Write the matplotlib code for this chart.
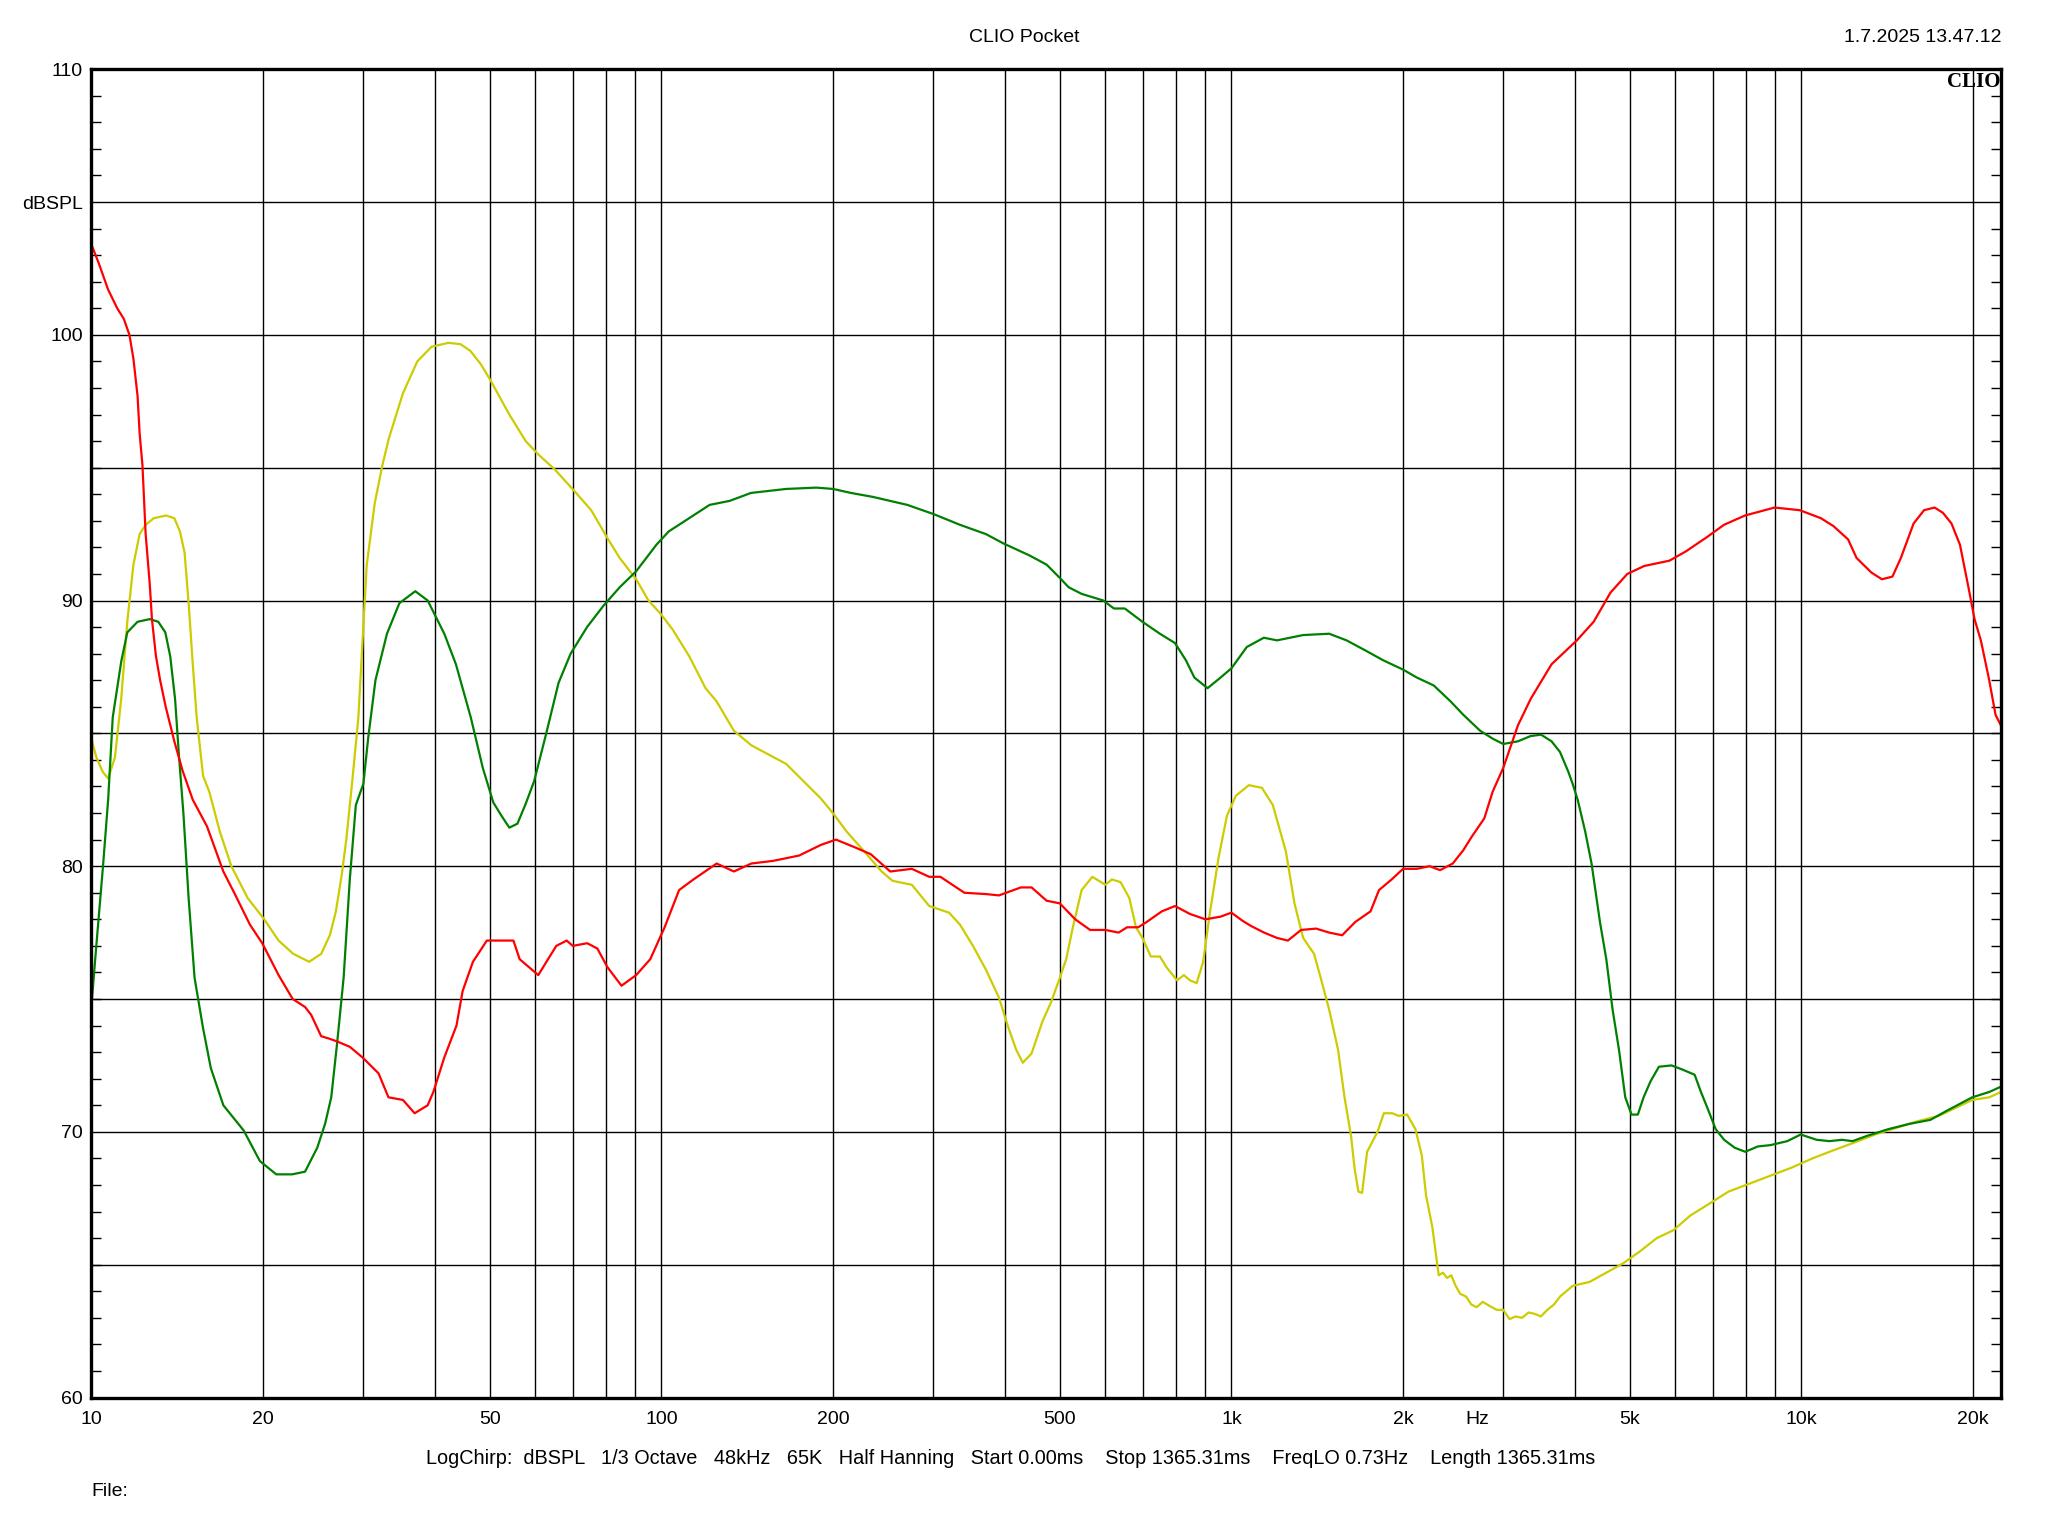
import numpy as np
import matplotlib.pyplot as plt
from matplotlib.ticker import FixedLocator, NullLocator

# --------------------------------------------
# Data
# --------------------------------------------
red_freq = [10, 10.3, 10.7, 11.1, 11.4, 11.66, 11.85, 12.05, 12.15, 12.29, 12.45, 12.66,
            12.77, 12.98, 13.2, 13.5, 13.98, 14.45, 15.06, 15.95, 17.04, 17.9, 18.97,
            19.94, 21.3, 22.55, 23.7, 24.3, 25.3, 26.2, 27.0, 28.4, 29.9, 31.9, 33.2,
            35.2, 36.9, 38.9, 39.8, 41.6, 43.7, 44.8, 46.7, 49.4, 55.0, 56.4, 60.8,
            65.4, 68.2, 69.9, 74.1, 77.2, 80.4, 85.1, 90.3, 95.6, 101.3, 107.4, 113.8,
            125, 134, 143.8, 157, 174.4, 190.4, 202.4, 219, 233, 252, 275, 295, 308.6,
            340, 371, 391, 427, 446, 474, 500, 532, 565, 601, 634, 656, 686, 710, 755,
            796, 846, 900, 957, 1000, 1045, 1082, 1141, 1202, 1256, 1325, 1408, 1484,
            1564, 1649, 1754, 1815, 1910, 2000, 2115, 2226, 2323, 2445, 2551, 2638,
            2777, 2872, 2998, 3181, 3350, 3644, 4036, 4320, 4624, 4948, 5298, 5867,
            6270, 6840, 7313, 7962, 8970, 9932, 10815, 11381, 12073, 12494, 13270,
            13840, 14440, 14940, 15730, 16410, 17120, 17710, 18330, 18970, 19630,
            20120, 20640, 21350, 21900, 22380]
red_db = [103.4, 102.7, 101.7, 101.0, 100.6, 100.0, 99.1, 97.7, 96.3, 95.1, 92.5, 90.6,
          89.3, 87.9, 87.0, 86.0, 84.7, 83.6, 82.5, 81.5, 79.8, 78.9, 77.8,
          77.1, 75.9, 75.0, 74.7, 74.4, 73.6, 73.5, 73.4, 73.2, 72.8, 72.2, 71.3,
          71.2, 70.7, 71.0, 71.5, 72.8, 74.0, 75.3, 76.4, 77.2, 77.2, 76.5, 75.9,
          77.0, 77.2, 77.0, 77.1, 76.9, 76.2, 75.5, 75.9, 76.5, 77.7, 79.1, 79.5,
          80.1, 79.8, 80.1, 80.2, 80.4, 80.8, 81.0, 80.7, 80.45, 79.8, 79.9, 79.6, 79.6,
          79.0, 78.95, 78.9, 79.2, 79.2, 78.7, 78.6, 78.0, 77.6, 77.6, 77.5, 77.7, 77.7, 77.9, 78.3,
          78.5, 78.2, 78.0, 78.1, 78.25, 77.95, 77.75, 77.5, 77.3, 77.2, 77.6, 77.65, 77.5,
          77.4, 77.9, 78.3, 79.1, 79.5, 79.9, 79.9, 80.0, 79.85, 80.1, 80.6, 81.1,
          81.8, 82.8, 83.7, 85.3, 86.3, 87.6, 88.5, 89.2, 90.3, 91.0, 91.3, 91.5,
          91.85, 92.4, 92.85, 93.2, 93.5, 93.4, 93.1, 92.8, 92.3, 91.6, 91.05,
          90.8, 90.9, 91.6, 92.9, 93.4, 93.5, 93.3, 92.9, 92.1, 90.5,
          89.3, 88.5, 87.0, 85.7, 85.3]

green_freq = [10, 10.2, 10.48, 10.7, 10.9, 11.28, 11.56, 12.05, 12.66, 13.1, 13.48, 13.75,
              14.02, 14.25, 14.5, 14.81, 15.17, 15.7, 16.2, 17.04, 18.5, 19.75, 21.1,
              22.5, 23.7, 24.9, 25.7, 26.35, 27.0, 27.7, 28.4, 29.1, 30.0, 30.6, 31.5,
              33.0, 34.7, 37.0, 38.9, 41.6, 43.6, 46.3, 48.6, 50.7, 52.4, 54.1, 55.9,
              57.8, 59.8, 62.8, 66.0, 69.3, 74.05, 79.1, 84.5, 90.3, 98, 103, 111.9,
              121.5, 131.7, 143.6, 165.5, 187, 200, 215, 235, 270, 300.5, 334, 371, 398,
              442, 474, 500, 518, 546, 596, 622, 650, 698, 749, 796, 832, 861, 908, 957,
              1000, 1064, 1140, 1202, 1336, 1484, 1592, 1725, 1846, 2000, 2115, 2265,
              2424, 2551, 2730, 2873, 2998, 3181, 3350, 3493, 3644, 3770, 3900, 3968,
              4050, 4175, 4283, 4431, 4546, 4663, 4784, 4908, 5034, 5164, 5285, 5435,
              5622, 5916, 6173, 6495, 6663, 6839, 7072, 7317, 7638, 7968, 8385, 8822,
              9444, 9970, 10634, 11194, 11776, 12290, 13041, 14197, 15460, 16830,
              18010, 19940, 21350, 22380]
green_db = [74.75, 77.0, 80.0, 82.5, 85.6, 87.7, 88.8, 89.2, 89.3, 89.2, 88.8, 87.9,
            86.3, 84.1, 82.0, 78.8, 75.8, 73.9, 72.4, 71.0, 70.05, 68.9, 68.4,
            68.4, 68.5, 69.4, 70.3, 71.3, 73.4, 75.8, 79.5, 82.3, 83.1, 84.85, 87.0,
            88.75, 89.9, 90.35, 90.0, 88.75, 87.6, 85.6, 83.7, 82.4, 81.9, 81.45, 81.6,
            82.35, 83.2, 85.0, 86.9, 88.0, 89.0, 89.8, 90.5, 91.1, 92.1, 92.6, 93.1,
            93.6, 93.75, 94.05, 94.2, 94.25, 94.2, 94.05, 93.9, 93.6, 93.25, 92.85, 92.5, 92.15,
            91.7, 91.35, 90.85, 90.5, 90.25, 90.0, 89.7, 89.7, 89.2, 88.75, 88.4, 87.75, 87.1, 86.7, 87.1,
            87.45, 88.25, 88.6, 88.5, 88.7, 88.75, 88.5, 88.1, 87.75, 87.4, 87.1, 86.8,
            86.2, 85.7, 85.1, 84.8, 84.6, 84.7, 84.9, 84.95, 84.7, 84.3, 83.55, 83.1,
            82.5, 81.3, 80.1, 77.9, 76.5, 74.6, 73.1, 71.3, 70.65, 70.65, 71.3, 71.9,
            72.45, 72.5, 72.35, 72.15, 71.5, 70.9, 70.1, 69.7, 69.4, 69.25, 69.45, 69.5,
            69.65, 69.9, 69.7, 69.65, 69.7, 69.65, 69.85, 70.1, 70.3, 70.45,
            70.8, 71.3, 71.5, 71.7]

yellow_freq = [10, 10.2, 10.47, 10.7, 11.0, 11.28, 11.56, 11.85, 12.15, 12.45, 12.87,
               13.52, 13.98, 14.3, 14.57, 14.81, 15.05, 15.3, 15.7, 16.1, 16.8, 17.6,
               18.8, 20.1, 21.3, 22.6, 24.1, 25.3, 26.2, 26.85, 27.5, 28.0, 28.7, 29.4,
               29.9, 30.4, 31.4, 32.4, 33.25, 35.2, 37.3, 39.5, 42.3, 44.4, 46.2, 48.2,
               50.1, 54.1, 57.8, 60.8, 64.9, 70.5, 75.3, 80.4, 84.5, 90.3, 94.9, 99.7,
               104.7, 111.9, 119.5, 125, 134, 143.8, 154.2, 165.5, 177.5, 190.4, 200.7,
               211.4, 227, 243.4, 254.3, 275, 295, 319.6, 334, 352, 371, 391, 405, 419,
               430.5, 446, 466, 483, 500, 513, 527, 546, 570, 601, 617, 639, 662, 680,
               698, 722, 749, 769, 803, 825, 846, 869, 892, 916, 949, 982, 1018, 1073,
               1131, 1182, 1246, 1290, 1336, 1396, 1434, 1484, 1538, 1579, 1621, 1645,
               1670, 1695, 1730, 1804, 1851, 1915, 1965, 2033, 2103, 2158, 2195, 2252,
               2310, 2350, 2389, 2430, 2474, 2520, 2580, 2635, 2692, 2760, 2835, 2920,
               2998, 3075, 3150, 3236, 3320, 3404, 3490, 3583, 3680, 3771, 3968, 4248,
               4547, 4866, 5207, 5574, 5966, 6383, 6839, 7447, 8110, 8822, 9605, 10455,
               11358, 12393, 13460, 14660, 15990, 17410, 18640, 19940, 21350, 22380]
yellow_db = [84.8, 84.1, 83.55, 83.3, 84.1, 86.3, 89.2, 91.35, 92.5, 92.85, 93.1,
             93.2, 93.1, 92.6, 91.8, 89.9, 87.7, 85.6, 83.4, 82.8, 81.3, 80.0,
             78.8, 78.0, 77.2, 76.7, 76.4, 76.7, 77.4, 78.3, 79.7, 81.0, 83.25, 85.6,
             88.5, 91.3, 93.65, 95.1, 96.1, 97.8, 99.0, 99.55, 99.7, 99.65, 99.4, 98.9,
             98.3, 97.0, 96.0, 95.5, 94.95, 94.1, 93.4, 92.35, 91.6, 90.8, 90.0, 89.5,
             88.9, 87.9, 86.7, 86.2, 85.1, 84.55, 84.2, 83.85, 83.2, 82.55, 81.95,
             81.3, 80.55, 79.8, 79.45, 79.3, 78.5, 78.25, 77.8, 77.0, 76.1, 75.05, 74.0, 73.1,
             72.6, 72.95, 74.15, 74.9, 75.8, 76.5, 77.7, 79.1, 79.6, 79.3, 79.5, 79.4, 78.8, 77.7,
             77.3, 76.6, 76.6, 76.2, 75.7, 75.9, 75.7, 75.6, 76.4, 78.2, 80.3, 81.9, 82.65, 83.05,
             82.95, 82.3, 80.55, 78.6, 77.3, 76.7, 75.8, 74.6, 73.1, 71.3, 69.85, 68.6,
             67.75, 67.7, 69.25, 70.0, 70.7, 70.7, 70.6, 70.65, 70.1, 69.1, 67.6, 66.4,
             64.6, 64.7, 64.5, 64.6, 64.2, 63.9, 63.8, 63.5, 63.4, 63.6, 63.45, 63.3,
             63.3, 62.95, 63.05, 63.0, 63.2, 63.15, 63.05, 63.3, 63.5, 63.8, 64.2, 64.35,
             64.7, 65.05, 65.5, 66.0, 66.3, 66.85, 67.25, 67.75, 68.05, 68.35, 68.65, 69.0,
             69.3, 69.6, 69.9, 70.15, 70.4, 70.6, 70.9, 71.2, 71.3, 71.5]

x_tick_pos = [10, 20, 50, 100, 200, 500, 1000, 2000, 2700, 5000, 10000, 20000]
x_tick_labels = ["10", "20", "50", "100", "200", "500", "1k", "2k", "Hz", "5k", "10k", "20k"]
y_tick_pos = [60, 70, 80, 90, 100, 105, 110]
y_tick_labels = ["60", "70", "80", "90", "100", "dBSPL", "110"]

info_text = ("LogChirp:  dBSPL   1/3 Octave   48kHz   65K   Half Hanning   Start 0.00ms"
             "    Stop 1365.31ms    FreqLO 0.73Hz    Length 1365.31ms")

# --------------------------------------------
# Figure
# --------------------------------------------
plt.rcParams["font.family"] = ["Liberation Sans", "DejaVu Sans"]
W, H = 2048, 1536
fig = plt.figure(figsize=(W / 100, H / 100), dpi=100)
ax = fig.add_axes([91.4 / W, 1 - 1397.5 / H, (2001 - 91.4) / W, (1397.5 - 69.2) / H])

ax.set_xscale("log")
ax.set_xlim(10, 22390)
ax.set_ylim(60, 110)

# grid (log decades + every 5 dB)
for e in range(1, 5):
    for m in range(2, 11):
        v = m * 10 ** e
        if v < 22000:
            ax.axvline(v, color="black", lw=1.0, zorder=1)
for v in range(65, 110, 5):
    ax.axhline(v, color="black", lw=1.0, zorder=1)

ax.plot(yellow_freq, yellow_db, color="#cccc00", lw=1.6, zorder=3)
ax.plot(green_freq, green_db, color="#008000", lw=1.6, zorder=3)
ax.plot(red_freq, red_db, color="#ff0000", lw=1.6, zorder=4)

ax.xaxis.set_major_locator(FixedLocator(x_tick_pos))
ax.set_xticklabels(x_tick_labels)
ax.xaxis.set_minor_locator(NullLocator())
ax.tick_params(axis="x", which="major", length=0, pad=10, labelsize=14)

ax.set_yticks(y_tick_pos)
ax.set_yticklabels(y_tick_labels)
ax.set_yticks(np.arange(61, 110, 1), minor=True)
ax.tick_params(axis="y", which="major", length=0, pad=6, labelsize=14)
ax.tick_params(axis="y", which="minor", direction="in", length=7, width=1.0,
               left=True, right=True)

for s in ax.spines.values():
    s.set_linewidth(2.4)
    s.set_zorder(5)

ax.text(0.9995, 0.998, "CLIO", transform=ax.transAxes, ha="right", va="top",
        family=["Liberation Serif", "DejaVu Serif"], weight="bold", fontsize=15, zorder=6)

fig.text(1024 / W, 1 - 37 / H, "CLIO Pocket", ha="center", va="center", fontsize=14)
fig.text(2001 / W, 1 - 37 / H, "1.7.2025 13.47.12", ha="right", va="center", fontsize=14)
fig.text(1011 / W, 1 - 1458 / H, info_text, ha="center", va="center", fontsize=14.3)
fig.text(91 / W, 1 - 1492 / H, "File:", ha="left", va="center", fontsize=14)

fig.savefig("out.png", dpi=100, facecolor="white")
